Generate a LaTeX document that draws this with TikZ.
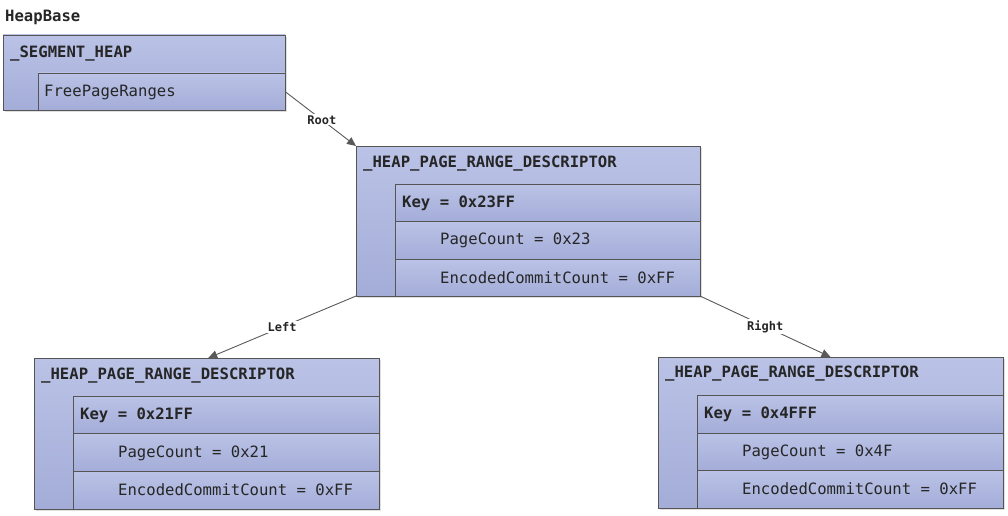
\documentclass[tikz,border=0pt]{standalone}
\usepackage{fontspec}
\setmonofont{DejaVu Sans Mono}
\usetikzlibrary{arrows.meta,shadows,calc}
\definecolor{boxtop}{HTML}{BAC2E6}
\definecolor{boxbot}{HTML}{A4ADD8}
\definecolor{edge}{HTML}{555555}
\tikzset{
  box/.style={draw=edge, line width=0.9pt, top color=boxtop, bottom color=boxbot,
    anchor=north west, inner sep=0pt, outer sep=0pt,
    drop shadow={opacity=0.25, shadow xshift=2pt, shadow yshift=-2pt, fill=gray}},
  row/.style={draw=edge, line width=0.9pt, top color=boxtop, bottom color=boxbot,
    anchor=north west, inner sep=0pt, outer sep=0pt},
  ttl/.style={anchor=west, inner sep=0pt, font=\ttfamily\bfseries\fontsize{15.6}{17}\selectfont, text=black!85},
  fld/.style={anchor=west, inner sep=0pt, font=\ttfamily\fontsize{15.6}{17}\selectfont, text=black!85},
  lbl/.style={fill=white, inner sep=1pt, font=\ttfamily\bfseries\fontsize{12}{14}\selectfont, text=black!85},
  conn/.style={draw=black!65, line width=0.9pt, -{Triangle[length=9pt,width=8pt]}},
}
\begin{document}
\begin{tikzpicture}[x=1pt,y=-1pt]
\useasboundingbox (0,0) rectangle (1008,516);
\node[ttl] (hb) at (5,17) {HeapBase};
% segment heap
\node[box, minimum width=282pt, minimum height=75pt] (seg) at (3,35) {};
\node[row, minimum width=247pt, minimum height=37pt] (fpr) at (38,73) {};
\node[ttl] (segt) at (10,54) {\_SEGMENT\_HEAP};
\node[fld] (fprt) at (44,92) {FreePageRanges};
% middle descriptor
\node[box, minimum width=344pt, minimum height=150pt] (mid) at (356,146) {};
\node[row, minimum width=305pt, minimum height=37.5pt] (midk) at (395,184) {};
\node[row, minimum width=305pt, minimum height=37.5pt] (midp) at (395,221.5) {};
\node[row, minimum width=305pt, minimum height=37pt] (mide) at (395,259) {};
\node[ttl] (midt) at (363,164) {\_HEAP\_PAGE\_RANGE\_DESCRIPTOR};
\node[ttl] (midkt) at (402,203) {Key = 0x23FF};
\node[fld] (midpt) at (440,240) {PageCount = 0x23};
\node[fld] (midet) at (440,277.5) {EncodedCommitCount = 0xFF};
% left descriptor
\node[box, minimum width=345pt, minimum height=151pt] (lft) at (34,358) {};
\node[row, minimum width=306pt, minimum height=37.5pt] (lftk) at (73,396) {};
\node[row, minimum width=306pt, minimum height=38pt] (lftp) at (73,433.5) {};
\node[row, minimum width=306pt, minimum height=37.5pt] (lfte) at (73,471.5) {};
\node[ttl] (lftt) at (41,376) {\_HEAP\_PAGE\_RANGE\_DESCRIPTOR};
\node[ttl] (lftkt) at (80,415) {Key = 0x21FF};
\node[fld] (lftpt) at (118,453) {PageCount = 0x21};
\node[fld] (lftet) at (118,490) {EncodedCommitCount = 0xFF};
% right descriptor
\node[box, minimum width=345pt, minimum height=151pt] (rgt) at (658,357) {};
\node[row, minimum width=306pt, minimum height=38pt] (rgtk) at (697,395) {};
\node[row, minimum width=306pt, minimum height=37.5pt] (rgtp) at (697,433) {};
\node[row, minimum width=306pt, minimum height=37.5pt] (rgte) at (697,470.5) {};
\node[ttl] (rgtt) at (665,374) {\_HEAP\_PAGE\_RANGE\_DESCRIPTOR};
\node[ttl] (rgtkt) at (704,414) {Key = 0x4FFF};
\node[fld] (rgtpt) at (742,452) {PageCount = 0x4F};
\node[fld] (rgtet) at (742,489) {EncodedCommitCount = 0xFF};
% connectors
\draw[conn] (fpr.east) -- node[lbl, pos=0.52] {Root} (mid.north west);
\draw[conn] (mid.south west) -- node[lbl, pos=0.5] {Left} ($(lft.north west)!0.505!(lft.north east)$);
\draw[conn] (mid.south east) -- node[lbl, pos=0.5] {Right} ($(rgt.north west)!0.50!(rgt.north east)$);
\end{tikzpicture}
\end{document}
